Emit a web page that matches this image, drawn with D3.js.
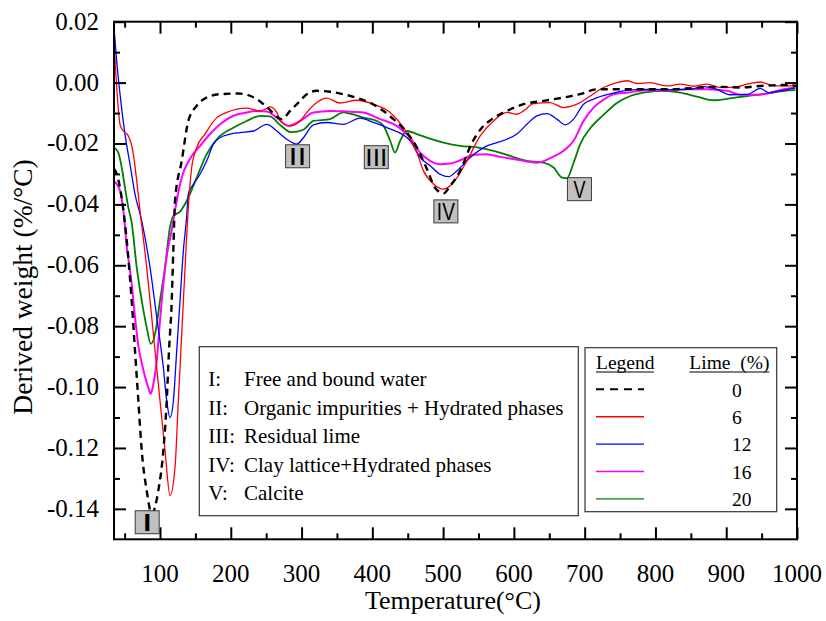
<!DOCTYPE html>
<html><head><meta charset="utf-8">
<script src="https://cdn.jsdelivr.net/npm/d3@7"></script>
</head><body style="margin:0">
<svg id="chart" width="826" height="621"></svg>
<script>
// ---------------- DATA ----------------
const seriesNames = ["0", "6", "12", "16", "20"];
const seriesColors = ["#000000", "#ff0000", "#0000ff", "#ff00ff", "#008000"];

const temp0 = [35,38.8,60,64.7,69.4,74.2,81.2,88.3,97.6,104.7,109.5,112.7,116.6,118.8,121.2,130.7,140,151.9,166,184.8,210.3,236.7,250.9,272.1,283.8,295.5,307.4,321.5,340.3,373.3,396.9,415.7,429.8,448.8,462.9,477,488.8,500.5,510,524.1,540.7,554.8,568.9,590.1,613.6,641.9,675,693.7,717.4,750.3,816.3,853.9,887,920,948.2,980.7,999];
const dtg0 = [-0.0283,-0.030,-0.0716,-0.0881,-0.1045,-0.1209,-0.1340,-0.1416,-0.1340,-0.1209,-0.1045,-0.0881,-0.0716,-0.0552,-0.0388,-0.0257,-0.0126,-0.0076,-0.0049,-0.0038,-0.0036,-0.0054,-0.0080,-0.0120,-0.0093,-0.0066,-0.0038,-0.0027,-0.0030,-0.0047,-0.0066,-0.0093,-0.0120,-0.0164,-0.0213,-0.0283,-0.0346,-0.0364,-0.0339,-0.0290,-0.0198,-0.0148,-0.0120,-0.0093,-0.0071,-0.0060,-0.0047,-0.0038,-0.0022,-0.0022,-0.0022,-0.0018,-0.0014,-0.0016,-0.0011,-0.0008,-0.0011];

const temp6 = [35,38.8,43.5,48.1,55.2,62.3,67.1,71.8,81.2,90.6,100,107.1,114.2,121.2,125.9,130.7,135.4,140,144.8,151.9,163.6,180.2,194.3,222.6,241.4,249.9,255.5,265,271,283.8,297.9,307.4,320.6,335.7,354.5,378.1,401.6,425.2,444,462.9,472.3,486.4,500.5,514.7,533.6,552.4,571.2,590.1,604.3,613.6,627.7,651.3,670.1,689,707.9,726.7,745.6,759.8,773.9,792.7,816.3,835.1,853.9,872.8,891.7,910.5,929.4,948.2,967,985.9,997.7];
const dtg6 = [0.0137,-0.0016,-0.0137,-0.0159,-0.0175,-0.0234,-0.0323,-0.0421,-0.0607,-0.0825,-0.1045,-0.1209,-0.1356,-0.1264,-0.1045,-0.0825,-0.0607,-0.0410,-0.0279,-0.0213,-0.0169,-0.0115,-0.0098,-0.0084,-0.0093,-0.0086,-0.0080,-0.0098,-0.0129,-0.0142,-0.0126,-0.0098,-0.0067,-0.0051,-0.0067,-0.0058,-0.0071,-0.0098,-0.0148,-0.0230,-0.0290,-0.0333,-0.0350,-0.0328,-0.0257,-0.0175,-0.0126,-0.0098,-0.0104,-0.0093,-0.0069,-0.0066,-0.0082,-0.0071,-0.0044,-0.0016,0.0000,0.0006,-0.0003,0.0000,-0.0011,-0.0005,-0.0012,-0.0005,-0.0016,-0.0016,-0.0005,0.0002,-0.0011,-0.0011,-0.0008];

const temp12 = [35,38.8,43.5,50.5,57.6,64.7,74.2,85.9,95.4,104.7,109.5,114.2,118.9,123.6,128.3,133,137.8,140,147.1,156.6,166,175.4,184.8,199,213.1,231.9,250.9,265,279.1,293.3,302.6,316.7,335.7,359.1,382.7,401.6,420.5,453.4,467.6,481.7,495.8,507.6,519.4,538.3,561.9,576,590.1,604.3,618.4,632.6,646.7,660.8,672.5,684.3,698.4,712.6,736.1,754.9,778.5,816.3,849.1,868,886.9,905.6,929.4,948.2,960,971.8,997.7];
const dtg12 = [0.0180,0.0071,-0.0038,-0.0169,-0.0268,-0.0366,-0.0454,-0.0607,-0.0771,-0.0935,-0.1045,-0.1100,-0.1045,-0.0881,-0.0716,-0.0552,-0.0437,-0.0366,-0.0334,-0.0301,-0.0257,-0.0202,-0.0181,-0.0169,-0.0164,-0.0159,-0.0137,-0.0159,-0.0186,-0.0202,-0.0181,-0.0139,-0.0131,-0.0137,-0.0117,-0.0131,-0.0148,-0.0191,-0.0246,-0.0273,-0.0301,-0.0309,-0.0290,-0.0246,-0.0208,-0.0197,-0.0186,-0.0169,-0.0137,-0.0109,-0.0102,-0.0120,-0.0139,-0.0120,-0.0071,-0.0054,-0.0037,-0.0027,-0.0022,-0.0023,-0.0022,-0.0013,-0.0022,-0.0040,-0.0039,-0.0019,-0.0033,-0.0029,-0.0017];

const temp16 = [35,43.5,48.1,53,60,64.7,69.4,76.4,83.5,86.9,90.6,95.4,100,104.7,109.5,116.6,123.6,130.7,142.4,156.6,170.7,184.8,203.6,222.6,236.7,250.9,265,281,297.9,316.7,340.3,363.9,387.4,410.9,434.5,453.4,467.6,481.7,495.8,510,524.1,542.9,561.9,580.6,599.5,618.4,632.6,651.3,670.1,684.3,698.4,712.6,731.5,740.9,759.8,788,816.3,844.6,872.8,901.1,920,943.6,957.7,981.2,997.7];
const dtg16 = [-0.0323,-0.0355,-0.0418,-0.0536,-0.0662,-0.0771,-0.0864,-0.0943,-0.1002,-0.1022,-0.0990,-0.0913,-0.0782,-0.0662,-0.0569,-0.0484,-0.0388,-0.0312,-0.0250,-0.0208,-0.0169,-0.0137,-0.0109,-0.0098,-0.0093,-0.0095,-0.0115,-0.0142,-0.0126,-0.0098,-0.0093,-0.0095,-0.0098,-0.0120,-0.0142,-0.0181,-0.0230,-0.0257,-0.0268,-0.0266,-0.0255,-0.0237,-0.0235,-0.0244,-0.0251,-0.0259,-0.0263,-0.0248,-0.0224,-0.0191,-0.0126,-0.0082,-0.0049,-0.0038,-0.0033,-0.0025,-0.0025,-0.0022,-0.0022,-0.0027,-0.0040,-0.0040,-0.0036,-0.0022,-0.0016];

const temp20 = [35,41.1,45.9,50.5,55.2,60,67.1,74.2,81.2,86.9,93,100,107.1,114.2,118.9,128.3,137.8,151.9,166,180.2,203.6,222.6,241.4,255.5,269.7,285.2,302.6,316.7,340.3,359.1,368.6,387.4,406.3,415.7,425.2,432.2,439.3,448.8,462.9,477,500.5,524.1,547.7,571.2,594.8,618.4,641.9,656.1,668,675,684.3,693.7,707.9,726.7,745.6,764.4,788,811.6,835.1,858.7,882.2,905.6,929.4,953,976.4,997.7];
const dtg20 = [-0.0213,-0.0230,-0.0279,-0.0345,-0.0410,-0.0460,-0.0607,-0.0716,-0.0804,-0.0858,-0.0826,-0.0716,-0.0607,-0.0473,-0.0438,-0.0424,-0.0388,-0.0312,-0.0235,-0.0186,-0.0148,-0.0126,-0.0109,-0.0111,-0.0139,-0.0163,-0.0155,-0.0126,-0.0120,-0.0098,-0.0102,-0.0115,-0.0126,-0.0142,-0.0191,-0.0230,-0.0191,-0.0159,-0.0169,-0.0181,-0.0197,-0.0208,-0.0213,-0.0224,-0.0241,-0.0257,-0.0263,-0.0279,-0.0312,-0.0314,-0.0264,-0.0202,-0.0150,-0.0106,-0.0067,-0.0044,-0.0031,-0.0027,-0.0033,-0.0046,-0.0058,-0.0052,-0.0044,-0.0038,-0.0029,-0.0024];

const xTicks = [100, 200, 300, 400, 500, 600, 700, 800, 900, 1000];
const xMinorTicks = [50, 150, 250, 350, 450, 550, 650, 750, 850, 950];
const yTicks = [0.02, 0.00, -0.02, -0.04, -0.06, -0.08, -0.10, -0.12, -0.14];
const yMinorTicks = [0.01, -0.01, -0.03, -0.05, -0.07, -0.09, -0.11, -0.13];

const markerNames = ["I", "II", "III", "IV", "V"];
const markerT = [81.9, 294.4, 405.6, 503.9, 692.6];
const markerY = [-0.1444, -0.0242, -0.0245, -0.0423, -0.0350];

const annotLabels = ["I:", "II:", "III:", "IV:", "V:"];
const annotTexts = ["Free and bound water", "Organic impurities + Hydrated phases", "Residual lime", "Clay lattice+Hydrated phases", "Calcite"];

const xTitle = "Temperature(\u00B0C)";
const yTitle = "Derived weight (%/\u00B0C)";

// ---------------- CHART ----------------
const fams = ["Liberation Serif", "Liberation Sans"];
const SERIF = `"${fams[0]}", cursive`;
const SANS = `"${fams[1]}", cursive`;

const series = [
  {name: seriesNames[0], color: seriesColors[0], t: temp0, v: dtg0, dash: "7,5", w: 2.4},
  {name: seriesNames[1], color: seriesColors[1], t: temp6, v: dtg6, dash: null, w: 1.3},
  {name: seriesNames[2], color: seriesColors[2], t: temp12, v: dtg12, dash: null, w: 1.3},
  {name: seriesNames[3], color: seriesColors[3], t: temp16, v: dtg16, dash: null, w: 2.0},
  {name: seriesNames[4], color: seriesColors[4], t: temp20, v: dtg20, dash: null, w: 1.8}
];

const L = 114, R = 797, T = 21.7, B = 539.3;
const svg = d3.select("#chart");
const x = d3.scaleLinear().domain([35, 1000]).range([L, R]);
const y = d3.scaleLinear().domain([-0.15, 0.02]).range([B, T]);

svg.append("defs").append("clipPath").attr("id", "clip")
  .append("rect").attr("x", L).attr("y", T).attr("width", R - L).attr("height", B - T);

const fmtY = v => (Math.abs(v) < 1e-9 ? "0.00" : v.toFixed(2));

function txt(g, size) {
  return g.append("text").style("font-family", SERIF).style("font-size", size + "px");
}

// Curves
const line = d3.line().x(d => x(d[0])).y(d => y(d[1])).curve(d3.curveMonotoneX);
const gCurves = svg.append("g").attr("clip-path", "url(#clip)");
[4, 3, 2, 1, 0].forEach(i => {
  const s = series[i];
  const pts = s.t.map((t, k) => [t, s.v[k]]);
  gCurves.append("path").datum(pts)
    .attr("d", line)
    .attr("fill", "none")
    .attr("stroke", s.color)
    .attr("stroke-width", s.w)
    .attr("stroke-linejoin", "round")
    .attr("stroke-dasharray", s.dash);
});

// Axes (ticks via d3 axes, labels drawn as separate text elements)
function styleAxis(g) {
  g.select(".domain").remove();
  g.selectAll(".tick line").attr("stroke", "#000").attr("stroke-width", 2);
  g.selectAll(".tick text").remove();
}
[[B, d3.axisBottom], [T, d3.axisTop]].forEach(([pos, ax]) => {
  svg.append("g").attr("transform", `translate(0,${pos})`)
    .call(ax(x).tickValues(xTicks).tickSize(-12)).call(styleAxis);
  svg.append("g").attr("transform", `translate(0,${pos})`)
    .call(ax(x).tickValues(xMinorTicks).tickSize(-6)).call(styleAxis);
});
[[L, d3.axisLeft], [R, d3.axisRight]].forEach(([pos, ax]) => {
  svg.append("g").attr("transform", `translate(${pos},0)`)
    .call(ax(y).tickValues(yTicks).tickSize(-12)).call(styleAxis);
  svg.append("g").attr("transform", `translate(${pos},0)`)
    .call(ax(y).tickValues(yMinorTicks).tickSize(-6)).call(styleAxis);
});

// tick labels
xTicks.forEach(v => {
  txt(svg, 25).attr("x", x(v)).attr("y", 582).attr("text-anchor", "middle").text(d3.format("d")(v));
});
yTicks.forEach(v => {
  txt(svg, 25).attr("x", 99).attr("y", y(v) + 8).attr("text-anchor", "end").text(fmtY(v));
});

svg.append("rect").attr("x", L).attr("y", T).attr("width", R - L).attr("height", B - T)
  .attr("fill", "none").attr("stroke", "#000").attr("stroke-width", 2);

// axis titles
txt(svg, 26).attr("x", 453).attr("y", 609).attr("text-anchor", "middle").text(xTitle);
txt(svg, 27.5).attr("transform", "translate(32,287) rotate(-90)")
  .attr("text-anchor", "middle").text(yTitle);

// peak marker boxes
const gMark = svg.append("g");
markerNames.forEach((m, i) => {
  const cx = x(markerT[i]), cy = y(markerY[i]);
  gMark.append("rect").attr("x", cx - 12).attr("y", cy - 11.5).attr("width", 24).attr("height", 23)
    .attr("fill", "#c0c0c0").attr("stroke", "#3a3a3a").attr("stroke-width", 1);
  gMark.append("text").attr("x", cx).attr("y", cy + 8.5).attr("text-anchor", "middle")
    .style("font-family", SANS).style("font-size", "23px")
    .attr("textLength", Math.min(22, 6 + 6 * m.length)).attr("lengthAdjust", "spacingAndGlyphs")
    .text(m);
});

// annotation box
const gAnn = svg.append("g");
gAnn.append("rect").attr("x", 199.3).attr("y", 346.7).attr("width", 379).attr("height", 169)
  .attr("fill", "#fff").attr("stroke", "#333").attr("stroke-width", 1.2);
annotLabels.forEach((lab, i) => {
  const by = 386 + i * 28.5;
  txt(gAnn, 21).attr("x", 208.3).attr("y", by).text(lab);
  txt(gAnn, 21).attr("x", 244).attr("y", by).text(annotTexts[i]);
});

// legend box
const gLeg = svg.append("g");
gLeg.append("rect").attr("x", 585).attr("y", 347.7).attr("width", 191.7).attr("height", 164)
  .attr("fill", "#fff").attr("stroke", "#333").attr("stroke-width", 1.2);
txt(gLeg, 19.5).attr("x", 596).attr("y", 368.5).text("Legend");
gLeg.append("line").attr("x1", 596).attr("x2", 654).attr("y1", 372).attr("y2", 372)
  .attr("stroke", "#000").attr("stroke-width", 1);
txt(gLeg, 19.5).attr("x", 689.3).attr("y", 368.5).style("white-space", "pre").text("Lime  (%)");
gLeg.append("line").attr("x1", 689.3).attr("x2", 769.3).attr("y1", 372).attr("y2", 372)
  .attr("stroke", "#000").attr("stroke-width", 1);
series.forEach((s, i) => {
  const ly = 389.3 + i * 27.4;
  gLeg.append("line").attr("x1", 596).attr("x2", 644).attr("y1", ly).attr("y2", ly)
    .attr("stroke", s.color).attr("stroke-width", s.dash ? 2 : 1.4)
    .attr("stroke-dasharray", s.dash ? "8,6" : null);
  txt(gLeg, 19.5).attr("x", 732).attr("y", ly + 7.2).text(s.name);
});
</script>
</body>
</html>
